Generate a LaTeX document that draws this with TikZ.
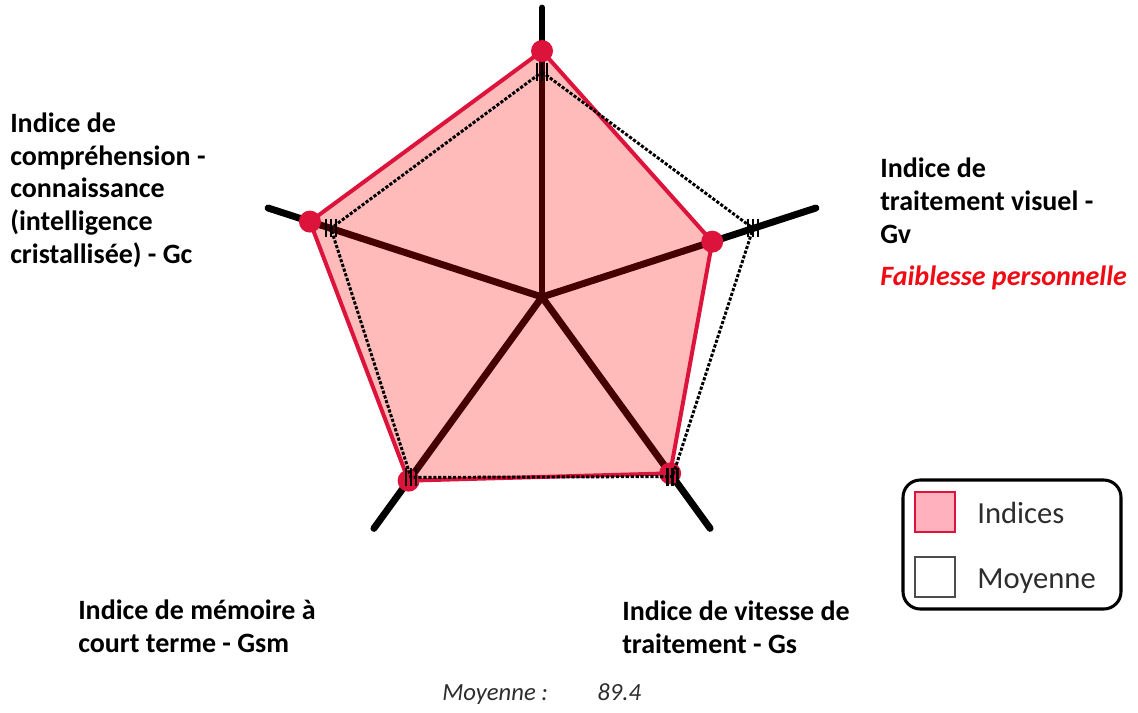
\documentclass[tikz,border=0pt]{standalone}
\usepackage{fontspec}
\setmainfont{Carlito}
\definecolor{crimson}{RGB}{220,20,60}
\definecolor{swatchpink}{RGB}{255,178,190}
\definecolor{legendtext}{RGB}{45,45,45}
\definecolor{weakred}{RGB}{240,10,20}
\begin{document}
\begin{tikzpicture}[x=0.75pt,y=0.75pt,
  axisline/.style={line width=5.2pt,line cap=round,black},
  idxfill/.style={fill=red,fill opacity=0.27,draw=none},
  idxline/.style={draw=crimson,line width=3pt,line join=round},
  idxdot/.style={circle,fill=crimson,inner sep=0pt,minimum size=16.5pt},
  avgline/.style={draw=black,line width=2.2pt,dash pattern=on 2.4pt off 1.3pt},
  tick/.style={line width=1.6pt,black},
  lbl/.style={inner sep=0pt,anchor=base west,align=left,
    font=\fontsize{21}{24.4}\selectfont\bfseries},
  legtxt/.style={inner sep=0pt,anchor=base west,text=legendtext,
    font=\fontsize{23}{27}\selectfont},
  swatch/.style={minimum width=30pt,minimum height=30pt,inner sep=0pt,line width=1.1pt}]
\useasboundingbox (0,0) rectangle (1138,-713);
\coordinate (O) at (542,-297);
\begin{scope}[shift={(O)}]
  % axis ends
  \coordinate (a1) at (90:289);
  \coordinate (a2) at (18:288);
  \coordinate (a3) at (162:288);
  \coordinate (a4) at (234:286);
  \coordinate (a5) at (306:286);
  % index scores
  \coordinate (p1) at (90:246);
  \coordinate (p2) at (18:179);
  \coordinate (p3) at (162:244);
  \coordinate (p4) at (234:227);
  \coordinate (p5) at (306:218);
  % average scores
  \coordinate (m1) at (90:225);
  \coordinate (m2) at (18:222);
  \coordinate (m3) at (162:222);
  \coordinate (m4) at (234:223);
  \coordinate (m5) at (306:222);
\end{scope}
% axes
\foreach \i in {1,...,5} \draw[axisline] (O) -- (a\i);
% index polygon
\fill[idxfill] (p1) -- (p2) -- (p5) -- (p4) -- (p3) -- cycle;
\draw[idxline] (p1) -- (p2) -- (p5) -- (p4) -- (p3) -- cycle;
\foreach \i in {1,...,5} \node[idxdot] (d\i) at (p\i) {};
% average polygon with hatched markers
\draw[avgline] (m1) -- (m2) -- (m5) -- (m4) -- (m3) -- cycle;
\foreach \i in {1,...,5} {
  \foreach \dx in {-5,0,5}
    \draw[tick] ([shift={(\dx,-9)}]m\i) -- ([shift={(\dx,9)}]m\i);
}
% axis labels (anchored at the baseline of their last line)
\node[lbl] (lgc) at (10,-263) {Indice de\\compréhension -\\connaissance\\(intelligence\\cristallisée) - Gc};
\node[lbl] (lgv) at (880,-243) {Indice de\\traitement visuel -\\Gv};
\node[lbl,font=\fontsize{21}{24.4}\selectfont\bfseries\itshape,text=weakred] (weak) at (880,-285) {Faiblesse personnelle};
\node[lbl] (lgsm) at (78,-652) {Indice de mémoire à\\court terme - Gsm};
\node[lbl] (lgs) at (622,-653) {Indice de vitesse de\\traitement - Gs};
% average value
\node[inner sep=0pt,anchor=base west,text=legendtext,font=\fontsize{18.5}{22}\selectfont\itshape] (avgl) at (442,-700) {Moyenne :};
\node[inner sep=0pt,anchor=base west,text=legendtext,font=\fontsize{18.5}{22}\selectfont\itshape] (avgv) at (597,-700) {89.4};
% legend
\draw[line width=2.3pt,rounded corners=13pt] (903,-480) rectangle (1121,-609);
\node[swatch,fill=swatchpink,draw=crimson] (s1) at (935,-512) {};
\node[swatch,fill=white,draw=black!70] (s2) at (935,-577) {};
\node[legtxt] (t1) at (977,-523) {Indices};
\node[legtxt] (t2) at (977,-588) {Moyenne};
\end{tikzpicture}
\end{document}
